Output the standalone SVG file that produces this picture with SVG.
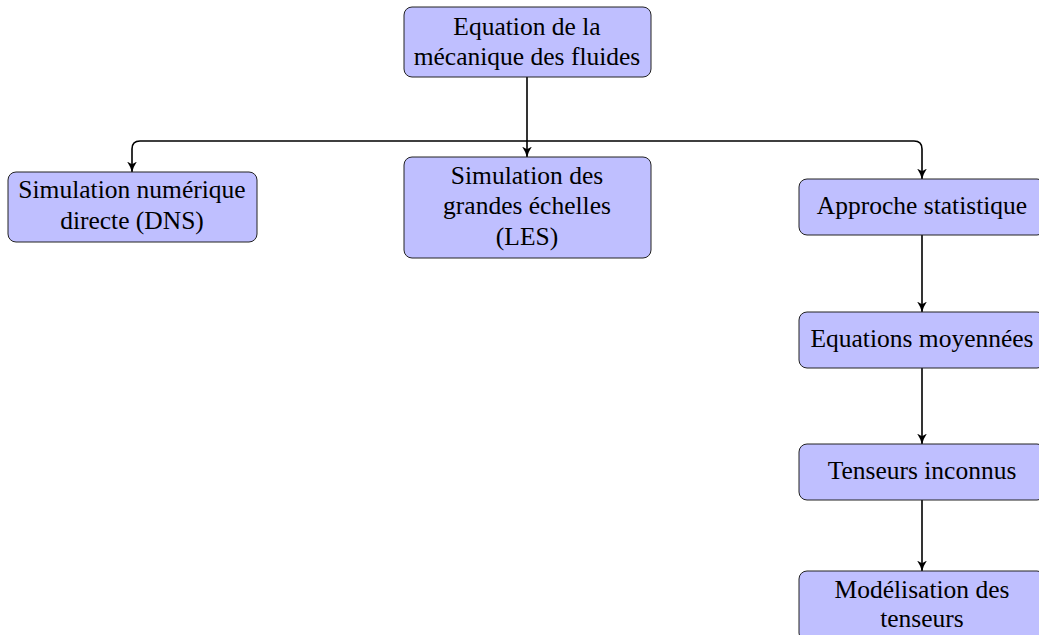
<svg xmlns="http://www.w3.org/2000/svg" width="1039" height="635" viewBox="0 0 1039 635">
<defs>
<style>
.box{fill:#bfbfff;stroke:#222;stroke-width:1}
.t{font-family:"Liberation Serif","Times New Roman",serif;font-size:25.5px;fill:#000;text-anchor:middle}
.c{fill:none;stroke:#000;stroke-width:1.6}
</style>
<marker id="ah" viewBox="0 0 10 10" refX="9.5" refY="5" markerWidth="11" markerHeight="11" orient="auto" markerUnits="userSpaceOnUse">
<path d="M0,0.5 Q5,4 10,5 Q5,6 0,9.5 L2.5,5 Z" fill="#000"/>
</marker>
</defs>
<g id="connectors">
<path class="c" d="M527,77 V157" marker-end="url(#ah)"/>
<path class="c" d="M527,141 H140 Q132,141 132,149 V172" marker-end="url(#ah)"/>
<path class="c" d="M527,141 H914 Q922,141 922,149 V179" marker-end="url(#ah)"/>
<path class="c" d="M922,235 V312" marker-end="url(#ah)"/>
<path class="c" d="M922,368 V444" marker-end="url(#ah)"/>
<path class="c" d="M922,500 V571" marker-end="url(#ah)"/>
</g>
<g id="n-top">
<rect class="box" x="404" y="7" width="247" height="70" rx="8"/>
<text class="t" x="527" y="35">Equation de la</text>
<text class="t" x="527" y="65">mécanique des fluides</text>
</g>
<g id="n-dns">
<rect class="box" x="8" y="172" width="249" height="70" rx="8"/>
<text class="t" x="132" y="198">Simulation numérique</text>
<text class="t" x="132" y="229">directe (DNS)</text>
</g>
<g id="n-les">
<rect class="box" x="404" y="157" width="247" height="101" rx="8"/>
<text class="t" x="527" y="184">Simulation des</text>
<text class="t" x="527" y="214">grandes échelles</text>
<text class="t" x="527" y="245">(LES)</text>
</g>
<g id="n-stat">
<rect class="box" x="799" y="179" width="246" height="56" rx="8"/>
<text class="t" x="922" y="214">Approche statistique</text>
</g>
<g id="n-moy">
<rect class="box" x="799" y="312" width="246" height="56" rx="8"/>
<text class="t" x="922" y="347">Equations moyennées</text>
</g>
<g id="n-tens">
<rect class="box" x="799" y="444" width="246" height="56" rx="8"/>
<text class="t" x="922" y="479">Tenseurs inconnus</text>
</g>
<g id="n-mod">
<rect class="box" x="799" y="571" width="246" height="70" rx="8"/>
<text class="t" x="922" y="598">Modélisation des</text>
<text class="t" x="922" y="627">tenseurs</text>
</g>
</svg>
